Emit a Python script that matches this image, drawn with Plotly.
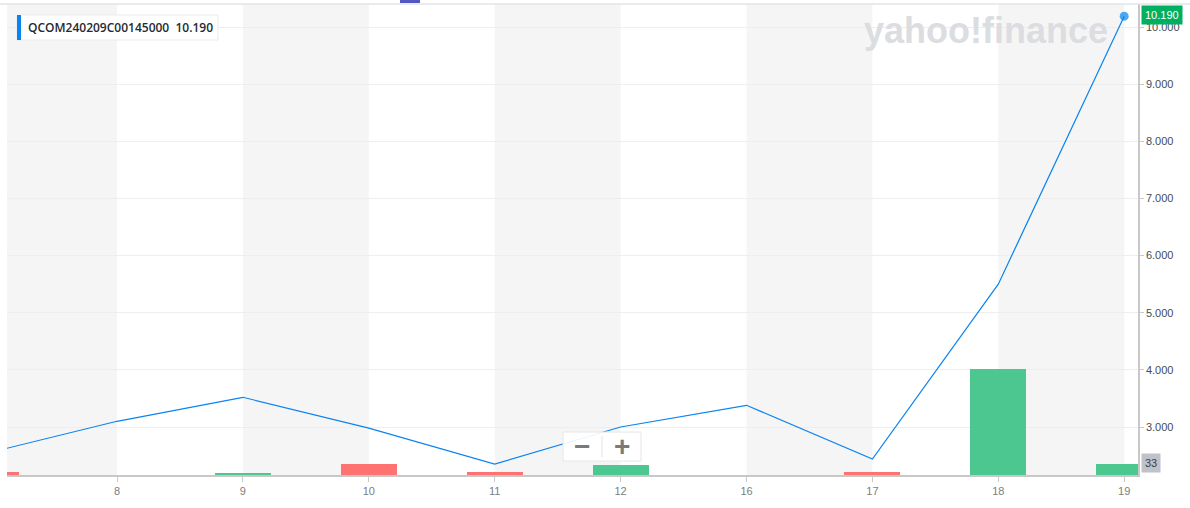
import plotly.graph_objects as go

# ---- data ----
days = ["5", "8", "9", "10", "11", "12", "16", "17", "18", "19"]
price = [2.56, 3.10, 3.52, 2.98, 2.35, 3.00, 3.38, 2.44, 5.50, 10.19]
volume = [10, 0, 7, 34, 10, 31, 0, 8, 320, 33]
vol_dir = ["down", "up", "up", "down", "down", "up", "up", "down", "up", "up"]
symbol = "QCOM240209C00145000"
last_price_label = "10.190"
last_volume_label = "33"
price_ticks = [3, 4, 5, 6, 7, 8, 9, 10]

# ---- layout geometry (pixels) ----
W, H = 1190, 508
L, R, T, B = 7, 1138, 4, 475
PW, PH = R - L, B - T


def px(xp):
    return (xp - L) / PW


def py(yp):
    return (B - yp) / PH


GREEN = "rgb(76,199,143)"
RED = "rgb(255,114,114)"
BLUE = "#0a84f0"

xi = list(range(len(days)))
bar_colors = [GREEN if d == "up" else RED for d in vol_dir]

fig = go.Figure()

fig.add_trace(go.Bar(
    x=xi, y=volume, yaxis="y2", width=0.444,
    marker=dict(color=bar_colors, line=dict(width=0)),
    hoverinfo="skip", showlegend=False,
))

marker_sizes = [0] * (len(price) - 1) + [9]
fig.add_trace(go.Scatter(
    x=xi, y=price, mode="lines+markers",
    line=dict(color=BLUE, width=1.2),
    marker=dict(size=marker_sizes, color="#0081f2", line=dict(width=0)),
    hoverinfo="skip", showlegend=False, cliponaxis=True,
))

shapes = []
# alternating background bands
x_lo, x_hi = 1 - 110 / 125.9, 1 + 1021 / 125.9
for i in range(0, len(days), 2):
    x0 = max(i, x_lo)
    x1 = min(i + 1, x_hi)
    shapes.append(dict(type="rect", xref="x", yref="paper", x0=x0, x1=x1, y0=0, y1=1,
                       fillcolor="#f5f5f5", line=dict(width=0), layer="below"))
# top border line
shapes.append(dict(type="line", xref="paper", yref="paper", x0=px(0), x1=px(W), y0=py(4), y1=py(4),
                   line=dict(color="#e1e4ea", width=1.5)))
# small purple handle at top
shapes.append(dict(type="rect", xref="paper", yref="paper", x0=px(400), x1=px(420), y0=py(0), y1=py(3),
                   fillcolor="#5257c4", line=dict(width=0)))
# legend box
shapes.append(dict(type="rect", xref="paper", yref="paper", x0=px(17), x1=px(218), y0=py(40), y1=py(15),
                   fillcolor="white", line=dict(color="#ebebeb", width=1)))
shapes.append(dict(type="rect", xref="paper", yref="paper", x0=px(17), x1=px(21), y0=py(40), y1=py(15),
                   fillcolor=BLUE, line=dict(width=0)))
# zoom buttons
shapes.append(dict(type="rect", xref="paper", yref="paper", x0=px(563), x1=px(641), y0=py(461), y1=py(432),
                   fillcolor="rgba(255,255,255,0.92)", line=dict(color="#e6e6e6", width=1)))
shapes.append(dict(type="line", xref="paper", yref="paper", x0=px(602), x1=px(602), y0=py(457), y1=py(436),
                   line=dict(color="#e2e2e2", width=1)))

annotations = [
    dict(text=f"{symbol}  {last_price_label}", xref="paper", yref="paper", x=px(26), y=py(27.5),
         xanchor="left", yanchor="middle", showarrow=False,
         font=dict(family="Open Sans", size=12, color="#232a31", weight=600)),
    dict(text="yahoo!finance", xref="paper", yref="paper", x=px(862), y=py(31),
         xanchor="left", yanchor="middle", showarrow=False,
         font=dict(family="Liberation Sans", size=36, color="#dcdde1", weight="bold")),
    dict(text=last_price_label, xref="paper", yref="paper", x=px(1141), y=py(15),
         xanchor="left", yanchor="middle", showarrow=False, bgcolor="#00b061", borderpad=3,
         font=dict(family="Liberation Sans", size=11, color="white")),
    dict(text=last_volume_label, xref="paper", yref="paper", x=px(1141), y=py(463),
         xanchor="left", yanchor="middle", showarrow=False, bgcolor="#bfc2c8", borderpad=3,
         font=dict(family="Liberation Sans", size=11, color="#3a3f45")),
    dict(text="<b>−</b>", xref="paper", yref="paper", x=px(582), y=py(446),
         xanchor="center", yanchor="middle", showarrow=False,
         font=dict(family="Liberation Sans", size=28, color="#7a7a7a")),
    dict(text="<b>+</b>", xref="paper", yref="paper", x=px(622), y=py(446),
         xanchor="center", yanchor="middle", showarrow=False,
         font=dict(family="Liberation Sans", size=28, color="#7a7a7a")),
]

y_lo = 3 - 48 / 57.14
y_hi = 3 + 423 / 57.14

fig.update_layout(
    width=W, height=H,
    margin=dict(l=L, r=W - R, t=T, b=H - B, pad=0),
    paper_bgcolor="white", plot_bgcolor="white",
    bargap=0, hovermode=False, showlegend=False,
    xaxis=dict(range=[x_lo, x_hi], tickmode="array", tickvals=xi[1:], ticktext=days[1:],
               showgrid=False, zeroline=False, showline=True, linecolor="#c8c8c8", linewidth=1.5,
               ticks="outside", ticklen=5, tickcolor="#c8c8c8",
               tickfont=dict(family="Liberation Sans", size=11, color="#7d7d7d"), fixedrange=True),
    yaxis=dict(range=[y_lo, y_hi], side="right", tickmode="array", tickvals=price_ticks,
               ticktext=[f"{v:.3f}" for v in price_ticks],
               showgrid=True, gridcolor="#eeeeee", gridwidth=1, zeroline=False,
               showline=True, linecolor="#c8c8c8", linewidth=1.5,
               ticks="outside", ticklen=4, tickcolor="#c8c8c8",
               tickfont=dict(family="Liberation Sans", size=11, color="#464b52"), fixedrange=True),
    yaxis2=dict(range=[0, 320 * PH / 106], overlaying="y", visible=False, fixedrange=True),
    shapes=shapes, annotations=annotations,
)

fig.write_html("out.html", config={"displayModeBar": False},
               post_script="document.body.style.margin='0';document.body.style.overflow='hidden';")
